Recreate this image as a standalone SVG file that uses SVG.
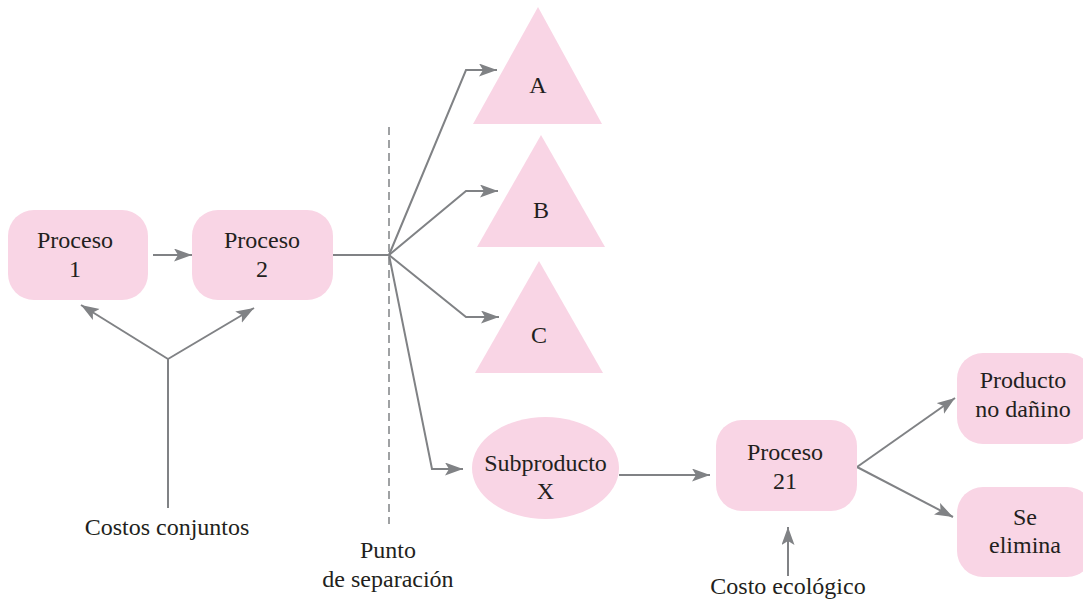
<svg xmlns="http://www.w3.org/2000/svg" width="1083" height="601" viewBox="0 0 1083 601">
<style>
.node{fill:#f9d5e5;}
.t{font-family:'Liberation Serif','DejaVu Serif',serif;font-size:24px;fill:#231f20;text-anchor:middle;}
.c{fill:none;stroke:#808285;stroke-width:2;}
.arr{marker-end:url(#ah);}
</style>
<defs>
<marker id="ah" markerUnits="userSpaceOnUse" markerWidth="20" markerHeight="14" refX="18" refY="6.5" orient="auto">
<path d="M0,0 L18,6.5 L0,13 L4,6.5 z" fill="#808285"/>
</marker>
</defs>
<rect width="1083" height="601" fill="#ffffff"/>
<g id="connectors">
<line class="c arr" x1="153" y1="255" x2="192" y2="255"/>
<line class="c" x1="333" y1="255" x2="389" y2="255"/>
<line x1="389" y1="127" x2="389" y2="524" stroke="#808285" stroke-width="1.5" stroke-dasharray="8,5"/>
<polyline class="c arr" points="389,255 466,70 497,70"/>
<polyline class="c arr" points="389,255 466,191 498,191"/>
<polyline class="c arr" points="389,255 466,317 499,317"/>
<polyline class="c arr" points="389,255 432,469 463,469"/>
<line class="c arr" x1="619" y1="475" x2="710" y2="475"/>
<line class="c arr" x1="788" y1="576" x2="788" y2="527"/>
<line class="c arr" x1="857" y1="467" x2="955" y2="398"/>
<line class="c arr" x1="857" y1="467" x2="953" y2="517"/>
<line class="c" x1="168" y1="508" x2="168" y2="359"/>
<line class="c arr" x1="168" y1="359" x2="81" y2="305"/>
<line class="c arr" x1="168" y1="359" x2="254" y2="308"/>
</g>
<g id="proceso1">
<rect class="node" x="8" y="210" width="140" height="90" rx="26"/>
<text class="t" x="75" y="248">Proceso</text>
<text class="t" x="75" y="277">1</text>
</g>
<g id="proceso2">
<rect class="node" x="192" y="210" width="141" height="90" rx="26"/>
<text class="t" x="262" y="248">Proceso</text>
<text class="t" x="262" y="277">2</text>
</g>
<g id="productoA">
<polygon class="node" points="538,7 473,124 602,124"/>
<text class="t" x="538" y="93">A</text>
</g>
<g id="productoB">
<polygon class="node" points="541,135 477,247 605,247"/>
<text class="t" x="541" y="218">B</text>
</g>
<g id="productoC">
<polygon class="node" points="539,261 475,373 603,373"/>
<text class="t" x="539" y="343">C</text>
</g>
<g id="subproducto">
<ellipse class="node" cx="545.5" cy="468" rx="73.5" ry="51"/>
<text class="t" x="545.5" y="471">Subproducto</text>
<text class="t" x="545.5" y="499">X</text>
</g>
<g id="proceso21">
<rect class="node" x="716" y="420" width="141" height="91" rx="26"/>
<text class="t" x="785" y="460">Proceso</text>
<text class="t" x="785" y="489">21</text>
</g>
<g id="productoNoDanino">
<rect class="node" x="957" y="353" width="136" height="91" rx="26"/>
<text class="t" x="1023" y="388">Producto</text>
<text class="t" x="1023" y="417">no dañino</text>
</g>
<g id="seElimina">
<rect class="node" x="957" y="487" width="136" height="90" rx="26"/>
<text class="t" x="1025" y="525">Se</text>
<text class="t" x="1025" y="553">elimina</text>
</g>
<g id="costosConjuntos">
<text class="t" x="167" y="535">Costos conjuntos</text>
</g>
<g id="puntoSeparacion">
<text class="t" x="388" y="558">Punto</text>
<text class="t" x="388" y="587">de separación</text>
</g>
<g id="costoEcologico">
<text class="t" x="788" y="594">Costo ecológico</text>
</g>
</svg>
